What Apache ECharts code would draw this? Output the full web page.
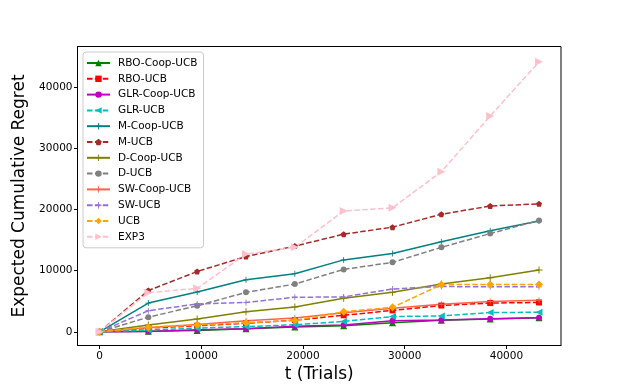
<!DOCTYPE html>
<html>
<head>
<meta charset="utf-8">
<script src="https://cdn.jsdelivr.net/npm/echarts@6/dist/echarts.min.js"></script>
<style>
  html, body { margin: 0; padding: 0; background: #fff; }
  #chart { width: 623px; height: 389px; }
</style>
</head>
<body>
<div id="chart"></div>
<script>
var fontFamily = 'DejaVu Sans, sans-serif';

var trials = [0, 4800, 9600, 14400, 19200, 24000, 28800, 33600, 38400, 43200];
var xTicks = [0, 10000, 20000, 30000, 40000];
var yTicks = [0, 10000, 20000, 30000, 40000];

var rboCoop = [0, 100, 200, 500, 800, 1000, 1500, 1900, 2100, 2300];
var rbo = [0, 600, 1000, 1400, 1900, 2700, 3500, 4300, 4700, 4800];
var glrCoop = [0, 50, 330, 500, 930, 1100, 1800, 1950, 2150, 2300];
var glr = [0, 300, 600, 860, 1150, 1700, 2500, 2600, 3150, 3200];
var mCoop = [0, 4700, 6500, 8500, 9500, 11750, 12800, 14700, 16500, 18100];
var mUcb = [0, 6750, 9850, 12300, 14000, 15950, 17100, 19200, 20550, 20900];
var dCoop = [0, 1100, 2100, 3300, 4050, 5500, 6450, 7800, 8850, 10100];
var dUcb = [0, 2400, 4250, 6450, 7800, 10200, 11350, 13800, 16050, 18200];
var swCoop = [0, 700, 1200, 1800, 2250, 3100, 3850, 4500, 4950, 5150];
var sw = [0, 3450, 4550, 4800, 5650, 5700, 7000, 7400, 7350, 7350];
var ucb = [0, 760, 1100, 1500, 1850, 3300, 4000, 7700, 7750, 7750];
var exp3 = [0, 6400, 7100, 12700, 13800, 19750, 20250, 26150, 35250, 44100];

var PLUS = 'path://M4.3,0h1.4v10h-1.4z M0,4.3h10v1.4h-10z';
var PENTA = 'path://M5,0L10,3.8L8.1,10L1.9,10L0,3.8z';
var DASH = [5.5, 2.4];

var lines = [
    { name: 'RBO-Coop-UCB', data: rboCoop, color: '#008000', dash: 'solid', symbol: 'triangle', size: 7 },
    { name: 'RBO-UCB', data: rbo, color: '#ff0000', dash: DASH, symbol: 'rect', size: 6 },
    { name: 'GLR-Coop-UCB', data: glrCoop, color: '#bf00bf', dash: 'solid', symbol: 'circle', size: 6 },
    { name: 'GLR-UCB', data: glr, color: '#00bfbf', dash: DASH, symbol: 'triangle', rotate: 90, size: 7 },
    { name: 'M-Coop-UCB', data: mCoop, color: '#008080', dash: 'solid', symbol: PLUS, size: 6 },
    { name: 'M-UCB', data: mUcb, color: '#a52a2a', dash: DASH, symbol: PENTA, size: 6 },
    { name: 'D-Coop-UCB', data: dCoop, color: '#808000', dash: 'solid', symbol: PLUS, size: 7 },
    { name: 'D-UCB', data: dUcb, color: '#808080', dash: DASH, symbol: 'circle', size: 6 },
    { name: 'SW-Coop-UCB', data: swCoop, color: '#ff6347', dash: 'solid', symbol: PLUS, size: 6 },
    { name: 'SW-UCB', data: sw, color: '#9370db', dash: DASH, symbol: PLUS, size: 6 },
    { name: 'UCB', data: ucb, color: '#ffa500', dash: DASH, symbol: 'diamond', size: 8 },
    { name: 'EXP3', data: exp3, color: '#ffc0cb', dash: DASH, symbol: 'triangle', rotate: -90, size: 8 }
];

var series = lines.map(function (s) {
    return {
        name: s.name,
        type: 'line',
        data: trials.map(function (t, i) { return [t, s.data[i]]; }),
        symbol: s.symbol,
        symbolSize: s.size,
        symbolRotate: s.rotate || 0,
        showAllSymbol: true,
        itemStyle: { color: s.color },
        lineStyle: { color: s.color, width: 1.5, type: s.dash },
        animation: false
    };
});

function plain(v) { return String(v); }

var chart = echarts.init(document.getElementById('chart'));
chart.setOption({
    backgroundColor: '#fff',
    textStyle: { fontFamily: fontFamily },
    grid: {
        left: 77.5, right: 62, top: 46.5, bottom: 43.5,
        show: true, borderColor: '#000', borderWidth: 1
    },
    legend: {
        orient: 'vertical',
        left: 83, top: 52,
        padding: [5, 6, 5, 3],
        borderColor: '#cccccc', borderWidth: 1, borderRadius: 3,
        itemWidth: 23, itemHeight: 8, itemGap: 3.8,
        textStyle: { fontSize: 10.5, color: '#000', fontFamily: fontFamily, lineHeight: 12, padding: [0, 0, 0, 3] },
        data: lines.map(function (s) { return s.name; })
    },
    xAxis: {
        type: 'value',
        min: -2160, max: 45360,
        name: 't (Trials)',
        nameLocation: 'middle',
        nameGap: 20,
        nameTextStyle: { fontSize: 17, color: '#000' },
        splitLine: { show: false },
        axisLine: { show: true, onZero: false, lineStyle: { color: '#000' } },
        axisTick: { show: true, customValues: xTicks, length: 3.5, lineStyle: { color: '#000' } },
        axisLabel: { customValues: xTicks, fontSize: 10.5, color: '#000', margin: 5, formatter: plain }
    },
    yAxis: {
        type: 'value',
        min: -2230, max: 46600,
        name: 'Expected Cumulative Regret',
        nameLocation: 'middle',
        nameGap: 46,
        nameTextStyle: { fontSize: 17, color: '#000' },
        splitLine: { show: false },
        axisLine: { show: true, onZero: false, lineStyle: { color: '#000' } },
        axisTick: { show: true, customValues: yTicks, length: 3.5, lineStyle: { color: '#000' } },
        axisLabel: { customValues: yTicks, fontSize: 10.5, color: '#000', margin: 5, formatter: plain }
    },
    series: series
});
</script>
</body>
</html>
